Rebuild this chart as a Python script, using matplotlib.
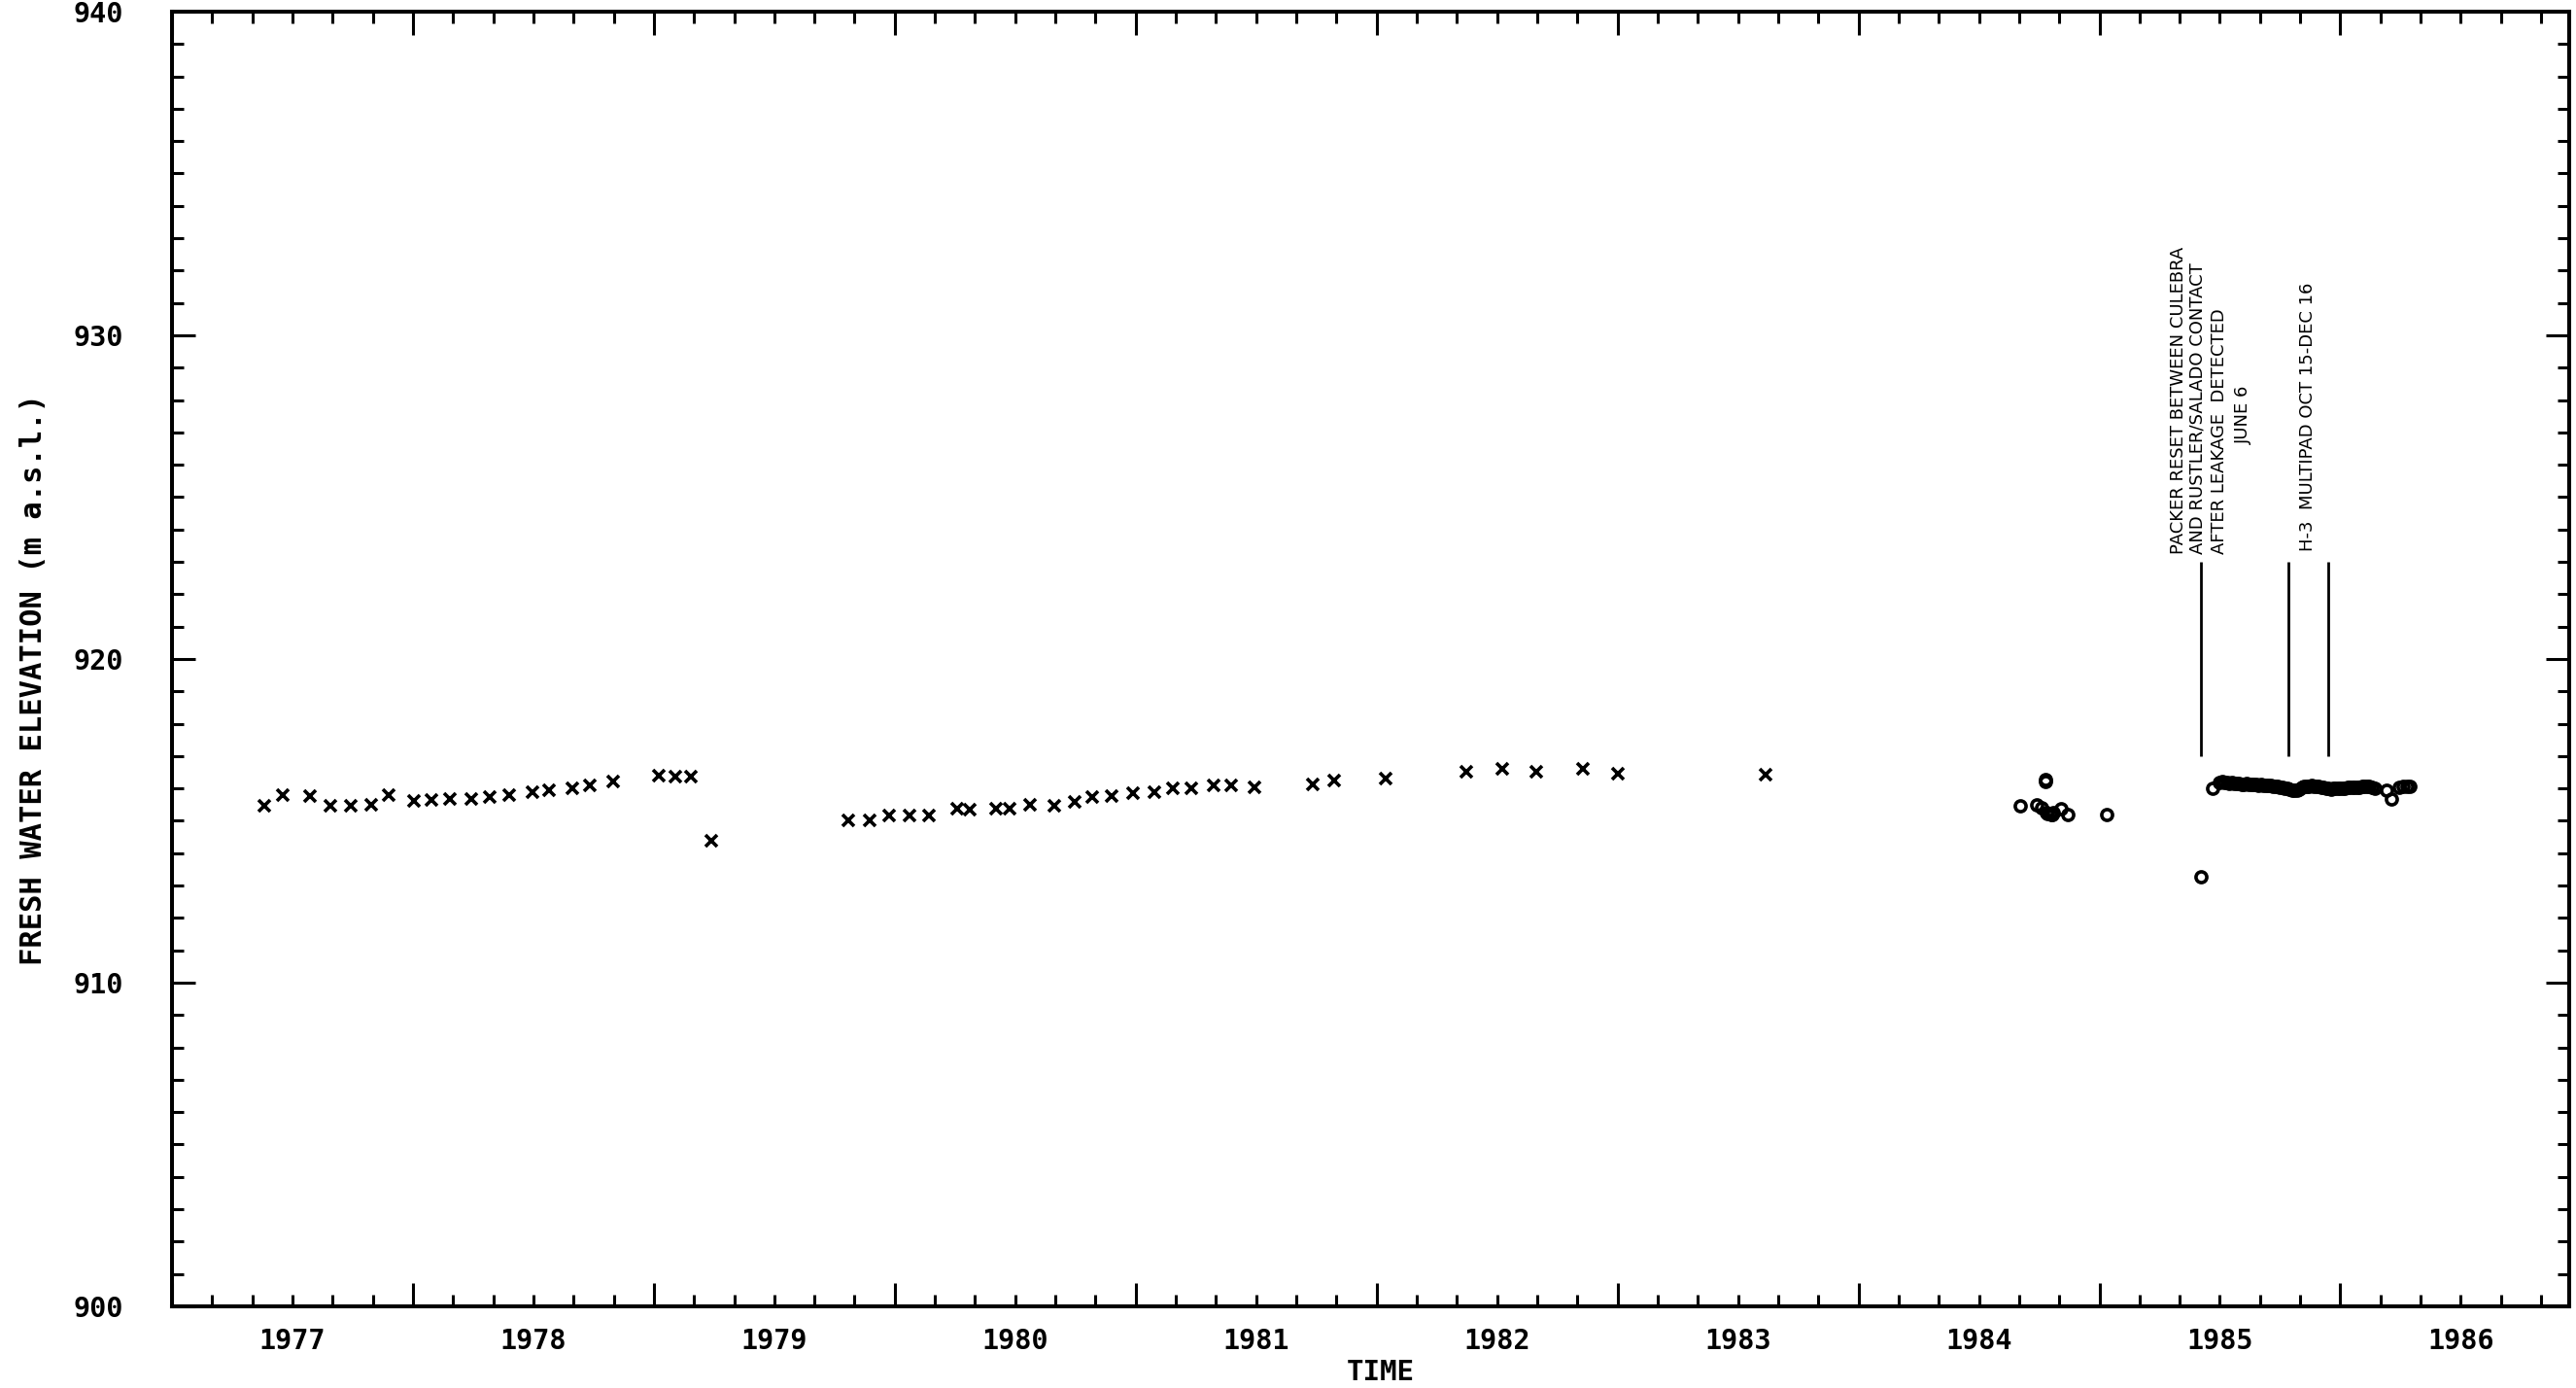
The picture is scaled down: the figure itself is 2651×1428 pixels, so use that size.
import matplotlib
matplotlib.use("Agg")
import matplotlib.pyplot as plt
from matplotlib.ticker import MultipleLocator, FuncFormatter, NullFormatter

# Periodic water-level readings (crosses), decimal years / m a.s.l.
cross_time = [1977.385, 1977.459, 1977.574, 1977.659, 1977.741, 1977.826, 1977.900,
              1978.003, 1978.077, 1978.153, 1978.242, 1978.320, 1978.398, 1978.495,
              1978.565, 1978.662, 1978.736, 1978.833, 1979.020, 1979.090, 1979.152,
              1979.239, 1979.809, 1979.894, 1979.978, 1980.063, 1980.143, 1980.258,
              1980.312, 1980.420, 1980.476, 1980.562, 1980.661, 1980.745, 1980.821,
              1980.902, 1980.990, 1981.076, 1981.155, 1981.232, 1981.322, 1981.396,
              1981.493, 1981.734, 1981.822, 1982.038, 1982.372, 1982.522, 1982.662,
              1982.856, 1983.002, 1983.616]
cross_elev = [915.48, 915.79, 915.78, 915.47, 915.47, 915.49, 915.79,
              915.63, 915.64, 915.69, 915.69, 915.75, 915.81, 915.88,
              915.96, 916.01, 916.11, 916.22, 916.40, 916.37, 916.37,
              914.37, 915.01, 915.00, 915.16, 915.16, 915.18, 915.37,
              915.36, 915.39, 915.37, 915.49, 915.48, 915.60, 915.74,
              915.78, 915.87, 915.89, 916.01, 916.01, 916.09, 916.11,
              916.04, 916.12, 916.24, 916.32, 916.52, 916.60, 916.52,
              916.60, 916.45, 916.42]

# Transducer readings (open circles): scattered 1984-85 values
early_time = [1984.67, 1984.74, 1984.775, 1984.778, 1984.76, 1984.78, 1984.785,
              1984.795, 1984.80, 1984.805, 1984.81, 1984.84, 1984.87,
              1985.03, 1985.42, 1985.47]
early_elev = [915.46, 915.50, 916.27, 916.22, 915.42, 915.27, 915.24,
              915.22, 915.19, 915.21, 915.25, 915.37, 915.20,
              915.20, 913.28, 916.02]

# near-continuous record after the packer reset
band_time = [1985.500, 1985.510, 1985.520, 1985.530, 1985.540, 1985.550, 1985.560,
             1985.570, 1985.580, 1985.590, 1985.600, 1985.610, 1985.620, 1985.630,
             1985.640, 1985.650, 1985.660, 1985.670, 1985.680, 1985.690, 1985.700,
             1985.710, 1985.720, 1985.730, 1985.740, 1985.750, 1985.760, 1985.770,
             1985.780, 1985.790, 1985.800, 1985.810, 1985.820, 1985.830, 1985.840,
             1985.850, 1985.860, 1985.870, 1985.880, 1985.890, 1985.900, 1985.910,
             1985.920, 1985.930, 1985.940, 1985.950, 1985.960, 1985.970, 1985.980,
             1985.990, 1986.000, 1986.010, 1986.020, 1986.030, 1986.040, 1986.050,
             1986.060, 1986.070, 1986.080, 1986.090, 1986.100, 1986.110, 1986.120,
             1986.130,
             1986.142, 1986.190, 1986.210, 1986.245, 1986.260, 1986.275, 1986.290]
band_elev = [916.20, 916.22, 916.19, 916.18, 916.17, 916.19, 916.16,
             916.15, 916.16, 916.14, 916.14, 916.15, 916.13, 916.12,
             916.13, 916.12, 916.11, 916.12, 916.10, 916.10, 916.09,
             916.10, 916.08, 916.07, 916.06, 916.05, 916.04, 916.02,
             916.01, 915.98, 915.96, 915.94, 915.95, 915.98, 916.03,
             916.07, 916.08, 916.07, 916.09, 916.07, 916.06, 916.06,
             916.04, 916.03, 916.02, 916.01, 915.99, 916.00, 916.00,
             916.01, 916.02, 916.01, 916.02, 916.03, 916.03, 916.04,
             916.03, 916.05, 916.05, 916.06, 916.07, 916.08, 916.06,
             916.05,
             916.00, 915.95, 915.69, 916.05, 916.07, 916.06, 916.07]

# Event markers: packer reset (June 6), H-3 multipad test start / end
event_time = [1985.42, 1985.785, 1985.95]
event_low, event_high = 917.0, 923.0

year_ticks = list(range(1977, 1987))

plt.rcParams["font.family"] = ["DejaVu Sans Mono", "DejaVu Sans"]
plt.rcParams["font.weight"] = "bold"

W, H = 2651, 1428
fig = plt.figure(figsize=(W / 100, H / 100), dpi=100)
left_px, right_px, top_px, bottom_px = 177, 2644, 12, 1344
ax = fig.add_axes([left_px / W, 1 - bottom_px / H,
                   (right_px - left_px) / W, (bottom_px - top_px) / H])

ax.plot(cross_time, cross_elev, ls="none", marker="x", ms=8.5, mew=2.6, color="black")
ax.plot(early_time + band_time, early_elev + band_elev, ls="none", marker="o",
        ms=8, mew=2.6, mfc="none", mec="black")
ax.vlines(event_time, event_low, event_high, color="black", lw=2)

ax.set_xlim(1977.0, 1986.95)
ax.set_ylim(900, 940)

# x axis: long ticks at year boundaries, short ticks every two months,
# year labels centred on mid-year
ax.set_xticks(year_ticks)
ax.xaxis.set_major_formatter(NullFormatter())
ax.xaxis.set_minor_locator(MultipleLocator(1 / 6))
ax.xaxis.set_minor_formatter(FuncFormatter(
    lambda v, p: f"{int(v)}" if abs((v % 1) - 0.5) < 0.01 else ""))

ax.yaxis.set_major_locator(MultipleLocator(10))
ax.yaxis.set_minor_locator(MultipleLocator(1))
ax.yaxis.set_major_formatter(FuncFormatter(lambda v, p: f"{int(v)}"))

ax.tick_params(axis="both", which="both", direction="in", top=True, right=True,
               width=2.2, color="black")
ax.tick_params(which="major", length=17)
ax.tick_params(which="minor", length=8.5)
ax.tick_params(axis="x", which="minor", labelsize=20.5, pad=16)
ax.tick_params(axis="y", which="major", labelsize=20.5, pad=36)

for sp in ax.spines.values():
    sp.set_linewidth(2.9)
    sp.set_color("black")

fig.text(35 / W, 1 - 699 / H, "FRESH WATER ELEVATION (m a.s.l.)", rotation=90,
         ha="center", va="center", fontsize=22)
fig.text(1421 / W, 1 - 1412 / H, "TIME", ha="center", va="center", fontsize=21)

note = dict(rotation=90, ha="center", family="DejaVu Sans", weight="normal",
            fontsize=13, color="black")
ax.text(1985.327, 923.25, "PACKER RESET BETWEEN CULEBRA", va="bottom", **note)
ax.text(1985.408, 923.25, "AND RUSTLER/SALADO CONTACT", va="bottom", **note)
ax.text(1985.500, 923.25, "AFTER LEAKAGE  DETECTED", va="bottom", **note)
ax.text(1985.600, 927.55, "JUNE 6", va="center", **note)
ax.text(1985.865, 923.34, "H-3  MULTIPAD OCT 15-DEC 16", va="bottom", **note)

fig.savefig("out.png", dpi=100, facecolor="white")
